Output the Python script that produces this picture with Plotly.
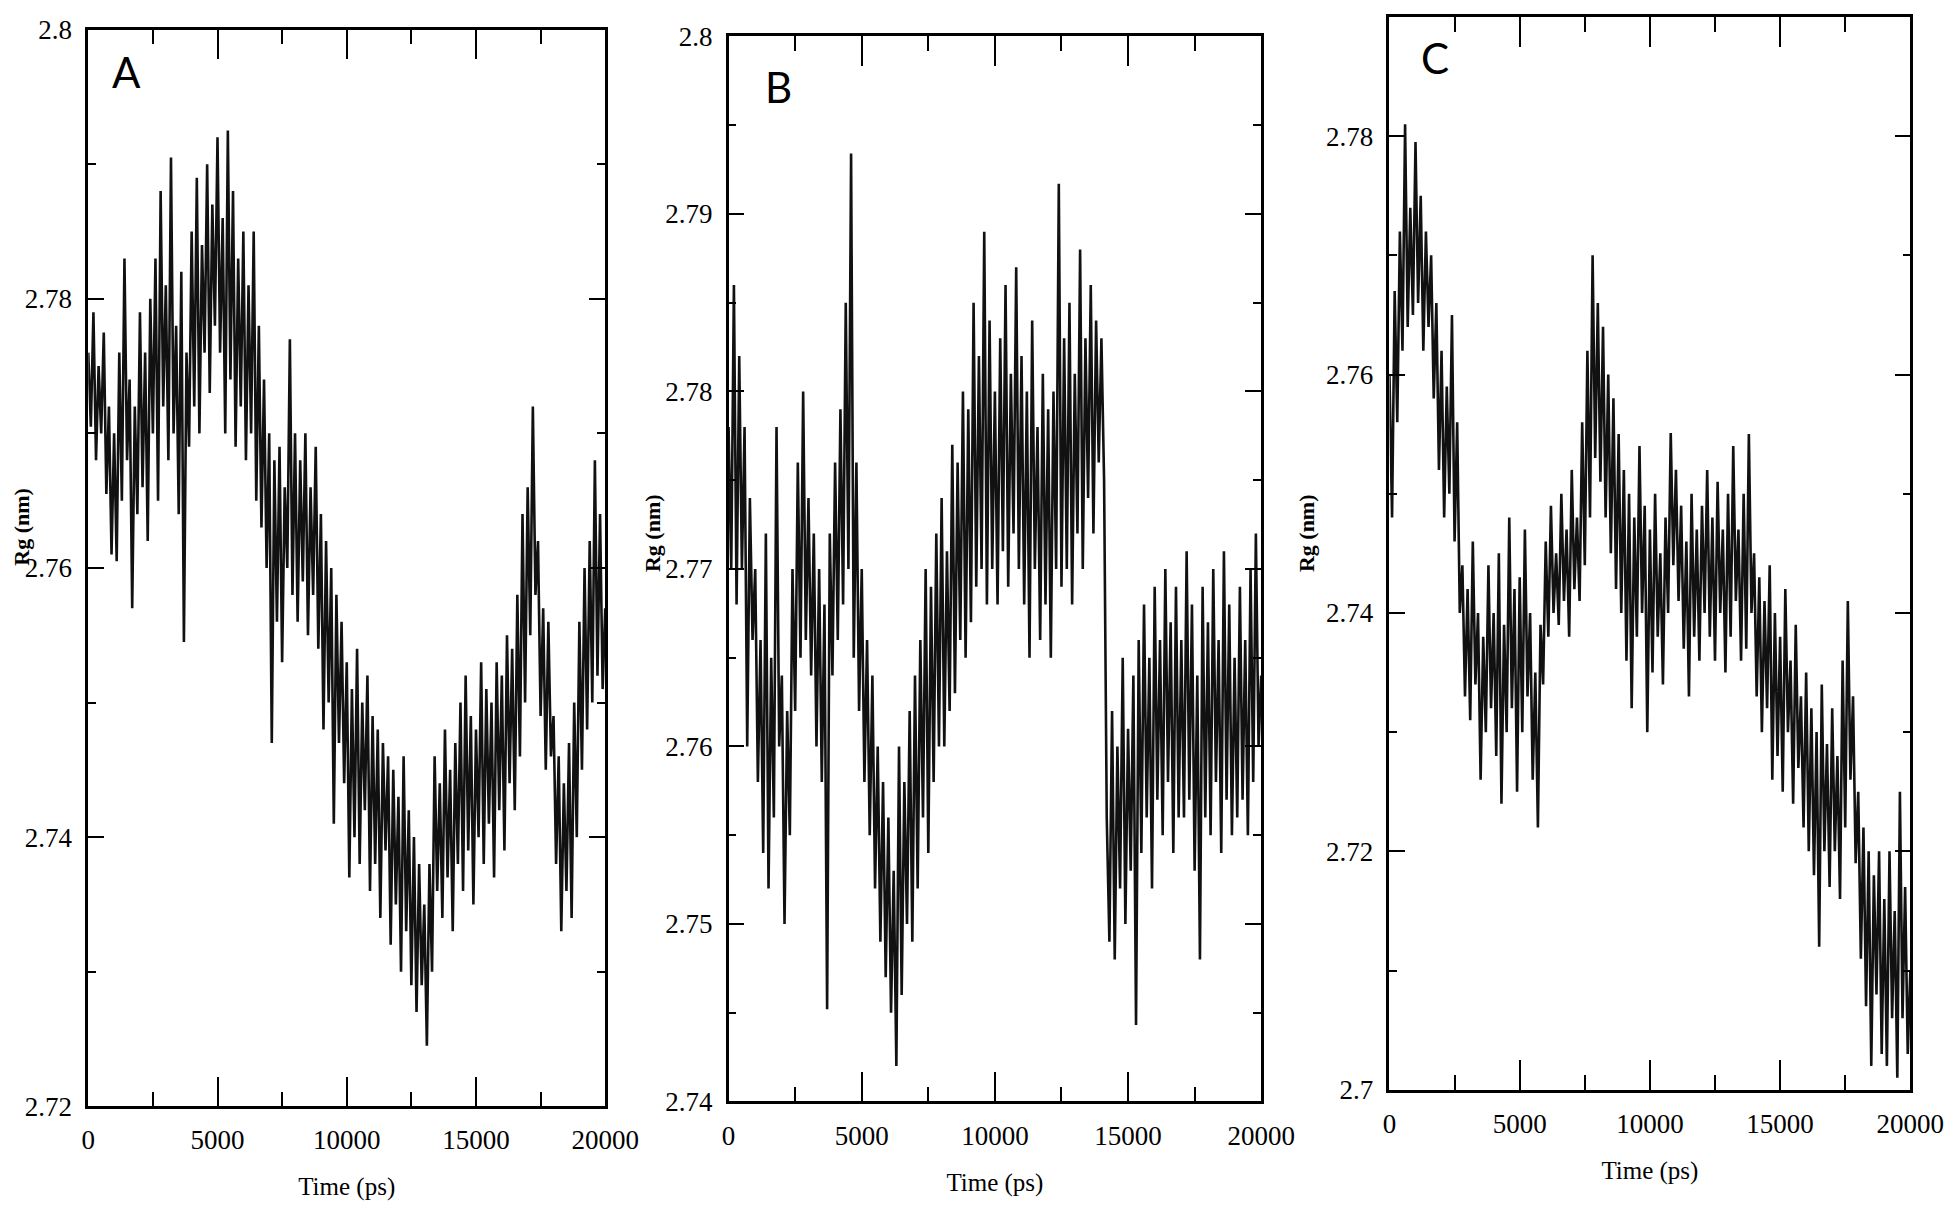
import plotly.graph_objects as go

# ===== DATA (one sample every 100 ps) ===== #
TIME_STEP = 100

rg_a = [
    2.7760, 2.7705, 2.7790, 2.7680, 2.7750, 2.7700, 2.7775, 2.7655, 2.7720, 2.7610,
    2.7700, 2.7605, 2.7760, 2.7650, 2.7830, 2.7680, 2.7740, 2.7570, 2.7720, 2.7640,
    2.7790, 2.7660, 2.7760, 2.7620, 2.7800, 2.7700, 2.7830, 2.7650, 2.7880, 2.7720,
    2.7810, 2.7680, 2.7905, 2.7700, 2.7780, 2.7640, 2.7820, 2.7545, 2.7760, 2.7690,
    2.7850, 2.7720, 2.7890, 2.7700, 2.7840, 2.7760, 2.7900, 2.7730, 2.7870, 2.7780,
    2.7920, 2.7760, 2.7860, 2.7700, 2.7925, 2.7740, 2.7880, 2.7690, 2.7830, 2.7720,
    2.7850, 2.7680, 2.7810, 2.7700, 2.7850, 2.7650, 2.7780, 2.7630, 2.7740, 2.7600,
    2.7700, 2.7470, 2.7680, 2.7560, 2.7690, 2.7530, 2.7660, 2.7600, 2.7770, 2.7580,
    2.7700, 2.7560, 2.7680, 2.7590, 2.7700, 2.7550, 2.7660, 2.7580, 2.7690, 2.7540,
    2.7640, 2.7480, 2.7620, 2.7500, 2.7600, 2.7410, 2.7580, 2.7470, 2.7560, 2.7440,
    2.7530, 2.7370, 2.7510, 2.7400, 2.7540, 2.7380, 2.7500, 2.7420, 2.7520, 2.7360,
    2.7490, 2.7380, 2.7480, 2.7340, 2.7470, 2.7390, 2.7460, 2.7320, 2.7450, 2.7350,
    2.7430, 2.7300, 2.7460, 2.7330, 2.7420, 2.7290, 2.7400, 2.7270, 2.7380, 2.7290,
    2.7350, 2.7245, 2.7380, 2.7300, 2.7460, 2.7360, 2.7440, 2.7340, 2.7480, 2.7370,
    2.7450, 2.7330, 2.7470, 2.7380, 2.7500, 2.7360, 2.7520, 2.7390, 2.7490, 2.7350,
    2.7480, 2.7400, 2.7530, 2.7380, 2.7510, 2.7410, 2.7500, 2.7370, 2.7530, 2.7420,
    2.7520, 2.7390, 2.7550, 2.7440, 2.7540, 2.7420, 2.7580, 2.7460, 2.7640, 2.7500,
    2.7660, 2.7550, 2.7720, 2.7580, 2.7620, 2.7490, 2.7570, 2.7450, 2.7560, 2.7460,
    2.7490, 2.7380, 2.7460, 2.7330, 2.7440, 2.7360, 2.7470, 2.7340, 2.7500, 2.7400,
    2.7560, 2.7450, 2.7600, 2.7480, 2.7620, 2.7500, 2.7680, 2.7520, 2.7640, 2.7510,
    2.7570,
]

rg_b = [
    2.7780, 2.7700, 2.7860, 2.7680, 2.7820, 2.7700, 2.7780, 2.7600, 2.7740, 2.7660,
    2.7700, 2.7580, 2.7660, 2.7540, 2.7720, 2.7520, 2.7650, 2.7560, 2.7780, 2.7600,
    2.7640, 2.7500, 2.7620, 2.7550, 2.7700, 2.7620, 2.7760, 2.7650, 2.7800, 2.7660,
    2.7740, 2.7640, 2.7720, 2.7600, 2.7700, 2.7580, 2.7680, 2.7452, 2.7720, 2.7640,
    2.7760, 2.7660, 2.7790, 2.7680, 2.7850, 2.7700, 2.7934, 2.7650, 2.7760, 2.7620,
    2.7700, 2.7580, 2.7660, 2.7550, 2.7640, 2.7520, 2.7600, 2.7490, 2.7580, 2.7470,
    2.7560, 2.7450, 2.7530, 2.7420, 2.7600, 2.7460, 2.7580, 2.7500, 2.7620, 2.7490,
    2.7640, 2.7520, 2.7660, 2.7560, 2.7700, 2.7540, 2.7690, 2.7580, 2.7720, 2.7600,
    2.7740, 2.7600, 2.7710, 2.7620, 2.7770, 2.7630, 2.7760, 2.7660, 2.7800, 2.7650,
    2.7790, 2.7670, 2.7850, 2.7690, 2.7820, 2.7700, 2.7890, 2.7680, 2.7840, 2.7700,
    2.7800, 2.7680, 2.7830, 2.7710, 2.7860, 2.7690, 2.7810, 2.7720, 2.7870, 2.7700,
    2.7820, 2.7680, 2.7800, 2.7650, 2.7840, 2.7700, 2.7780, 2.7660, 2.7810, 2.7680,
    2.7790, 2.7650, 2.7800, 2.7700, 2.7917, 2.7690, 2.7830, 2.7700, 2.7850, 2.7680,
    2.7810, 2.7720, 2.7880, 2.7700, 2.7830, 2.7740, 2.7860, 2.7720, 2.7840, 2.7760,
    2.7830, 2.7750, 2.7560, 2.7490, 2.7620, 2.7480, 2.7600, 2.7520, 2.7650, 2.7500,
    2.7610, 2.7530, 2.7640, 2.7443, 2.7660, 2.7540, 2.7680, 2.7560, 2.7650, 2.7520,
    2.7690, 2.7570, 2.7660, 2.7550, 2.7700, 2.7580, 2.7670, 2.7540, 2.7690, 2.7560,
    2.7660, 2.7560, 2.7710, 2.7570, 2.7680, 2.7530, 2.7640, 2.7480, 2.7690, 2.7560,
    2.7670, 2.7550, 2.7700, 2.7580, 2.7660, 2.7540, 2.7710, 2.7570, 2.7680, 2.7550,
    2.7650, 2.7560, 2.7690, 2.7570, 2.7660, 2.7550, 2.7700, 2.7580, 2.7720, 2.7600,
    2.7640,
]

rg_c = [
    2.7600, 2.7480, 2.7670, 2.7560, 2.7720, 2.7620, 2.7810, 2.7640, 2.7740, 2.7650,
    2.7795, 2.7660, 2.7750, 2.7620, 2.7720, 2.7640, 2.7700, 2.7580, 2.7660, 2.7520,
    2.7620, 2.7480, 2.7590, 2.7500, 2.7650, 2.7460, 2.7560, 2.7400, 2.7440, 2.7330,
    2.7420, 2.7310, 2.7460, 2.7340, 2.7400, 2.7260, 2.7380, 2.7300, 2.7440, 2.7320,
    2.7400, 2.7280, 2.7450, 2.7240, 2.7390, 2.7300, 2.7480, 2.7320, 2.7420, 2.7250,
    2.7430, 2.7300, 2.7470, 2.7330, 2.7400, 2.7260, 2.7350, 2.7220, 2.7390, 2.7340,
    2.7460, 2.7380, 2.7490, 2.7400, 2.7450, 2.7390, 2.7500, 2.7410, 2.7470, 2.7380,
    2.7520, 2.7420, 2.7480, 2.7410, 2.7560, 2.7440, 2.7620, 2.7480, 2.7700, 2.7530,
    2.7660, 2.7510, 2.7640, 2.7480, 2.7600, 2.7450, 2.7580, 2.7420, 2.7550, 2.7400,
    2.7520, 2.7360, 2.7500, 2.7320, 2.7480, 2.7380, 2.7540, 2.7400, 2.7490, 2.7300,
    2.7470, 2.7350, 2.7500, 2.7380, 2.7450, 2.7340, 2.7480, 2.7400, 2.7551, 2.7440,
    2.7520, 2.7410, 2.7490, 2.7370, 2.7460, 2.7330, 2.7500, 2.7380, 2.7470, 2.7360,
    2.7490, 2.7400, 2.7520, 2.7380, 2.7480, 2.7360, 2.7510, 2.7400, 2.7470, 2.7350,
    2.7500, 2.7380, 2.7540, 2.7410, 2.7470, 2.7360, 2.7500, 2.7370, 2.7550, 2.7400,
    2.7450, 2.7330, 2.7430, 2.7300, 2.7410, 2.7320, 2.7440, 2.7260, 2.7400, 2.7280,
    2.7380, 2.7250, 2.7420, 2.7300, 2.7360, 2.7240, 2.7390, 2.7270, 2.7330, 2.7220,
    2.7350, 2.7200, 2.7320, 2.7180, 2.7300, 2.7120, 2.7340, 2.7200, 2.7290, 2.7170,
    2.7320, 2.7200, 2.7280, 2.7160, 2.7360, 2.7220, 2.7410, 2.7260, 2.7330, 2.7190,
    2.7250, 2.7110, 2.7220, 2.7070, 2.7200, 2.7020, 2.7180, 2.7080, 2.7200, 2.7030,
    2.7160, 2.7020, 2.7200, 2.7060, 2.7150, 2.7010, 2.7250, 2.7060, 2.7170, 2.7030,
    2.7100,
]

x_tickvals = [0, 5000, 10000, 15000, 20000]
x_ticktext = ["0", "5000", "10000", "15000", "20000"]

ya_tickvals = [2.72, 2.74, 2.76, 2.78, 2.80]
ya_ticktext = ["2.72", "2.74", "2.76", "2.78", "2.8"]
yb_tickvals = [2.74, 2.75, 2.76, 2.77, 2.78, 2.79, 2.80]
yb_ticktext = ["2.74", "2.75", "2.76", "2.77", "2.78", "2.79", "2.8"]
yc_tickvals = [2.70, 2.72, 2.74, 2.76, 2.78]
yc_ticktext = ["2.7", "2.72", "2.74", "2.76", "2.78"]

panel_letters = ["A", "B", "C"]

# ===== LAYOUT (pixel boxes of each panel in the 1960x1212 page) ===== #
W, H = 1960, 1212
panels = [
    # data, y ticks, y range, minor dy, (left, right, top, bottom) px
    (rg_a, ya_tickvals, ya_ticktext, [2.72, 2.80], 0.01, (83, 611, 15, 1119)),
    (rg_b, yb_tickvals, yb_ticktext, [2.74, 2.80], 0.005, (737, 1281, 22, 1114)),
    (rg_c, yc_tickvals, yc_ticktext, [2.70, 2.79], 0.01, (1412, 1944, 2, 1102)),
]
letter_pos = [(122, 58), (788, 74), (1458, 44)]
ytitle_pos = [(14, 525), (660, 531), (1328, 531)]

SERIF = "Liberation Serif, Times New Roman, serif"

fig = go.Figure()
annotations = []

for i, (rg, ytv, ytt, yrange, ydminor, (l, r, t, b)) in enumerate(panels):
    n = "" if i == 0 else str(i + 1)
    times = [k * TIME_STEP for k in range(len(rg))]
    fig.add_trace(go.Scatter(
        x=times, y=rg, mode="lines", xaxis="x" + n, yaxis="y" + n,
        line=dict(color="#111111", width=2.6), showlegend=False,
        hoverinfo="skip"))

    common = dict(showline=True, linecolor="black", linewidth=2.5,
                  mirror="allticks", ticks="inside", tickcolor="black",
                  tickwidth=2, showgrid=False, zeroline=False,
                  tickfont=dict(family=SERIF, size=27, color="black"))
    fig.update_layout(**{
        "xaxis" + n: dict(
            common, domain=[l / W, r / W], anchor="y" + n,
            range=[0, 20000], tickvals=x_tickvals, ticktext=x_ticktext,
            ticklen=30, ticklabelstandoff=8,
            minor=dict(ticks="inside", ticklen=15, dtick=2500,
                       tickcolor="black", tickwidth=2, showgrid=False),
            title=dict(text="Time (ps)", standoff=24,
                       font=dict(family=SERIF, size=25, color="black"))),
        "yaxis" + n: dict(
            common, domain=[1 - b / H, 1 - t / H], anchor="x" + n,
            range=yrange, tickvals=ytv, ticktext=ytt,
            ticklen=16, ticklabelstandoff=8,
            minor=dict(ticks="inside", ticklen=8, dtick=ydminor,
                       tickcolor="black", tickwidth=2, showgrid=False)),
    })

    lx, ly = letter_pos[i]
    annotations.append(dict(
        text=panel_letters[i], x=lx / W, y=1 - ly / H, xref="paper",
        yref="paper", showarrow=False, xanchor="center", yanchor="middle",
        font=dict(family="Lato, Open Sans, sans-serif", size=42,
                  color="black")))
    tx, ty = ytitle_pos[i]
    annotations.append(dict(
        text="<b>Rg (nm)</b>", x=tx / W, y=1 - ty / H,
        xref="paper", yref="paper", showarrow=False, textangle=-90,
        xanchor="center", yanchor="middle",
        font=dict(family=SERIF, size=22, color="black")))

fig.update_layout(
    width=W, height=H, margin=dict(l=0, r=0, t=0, b=0),
    paper_bgcolor="white", plot_bgcolor="white",
    annotations=annotations)

# drop the browser's default page margin so the figure sits at (0, 0)
fig.write_html("out.html", config={"displayModeBar": False},
               post_script="document.body.style.margin='0';"
                           "document.body.style.overflow='hidden';")
